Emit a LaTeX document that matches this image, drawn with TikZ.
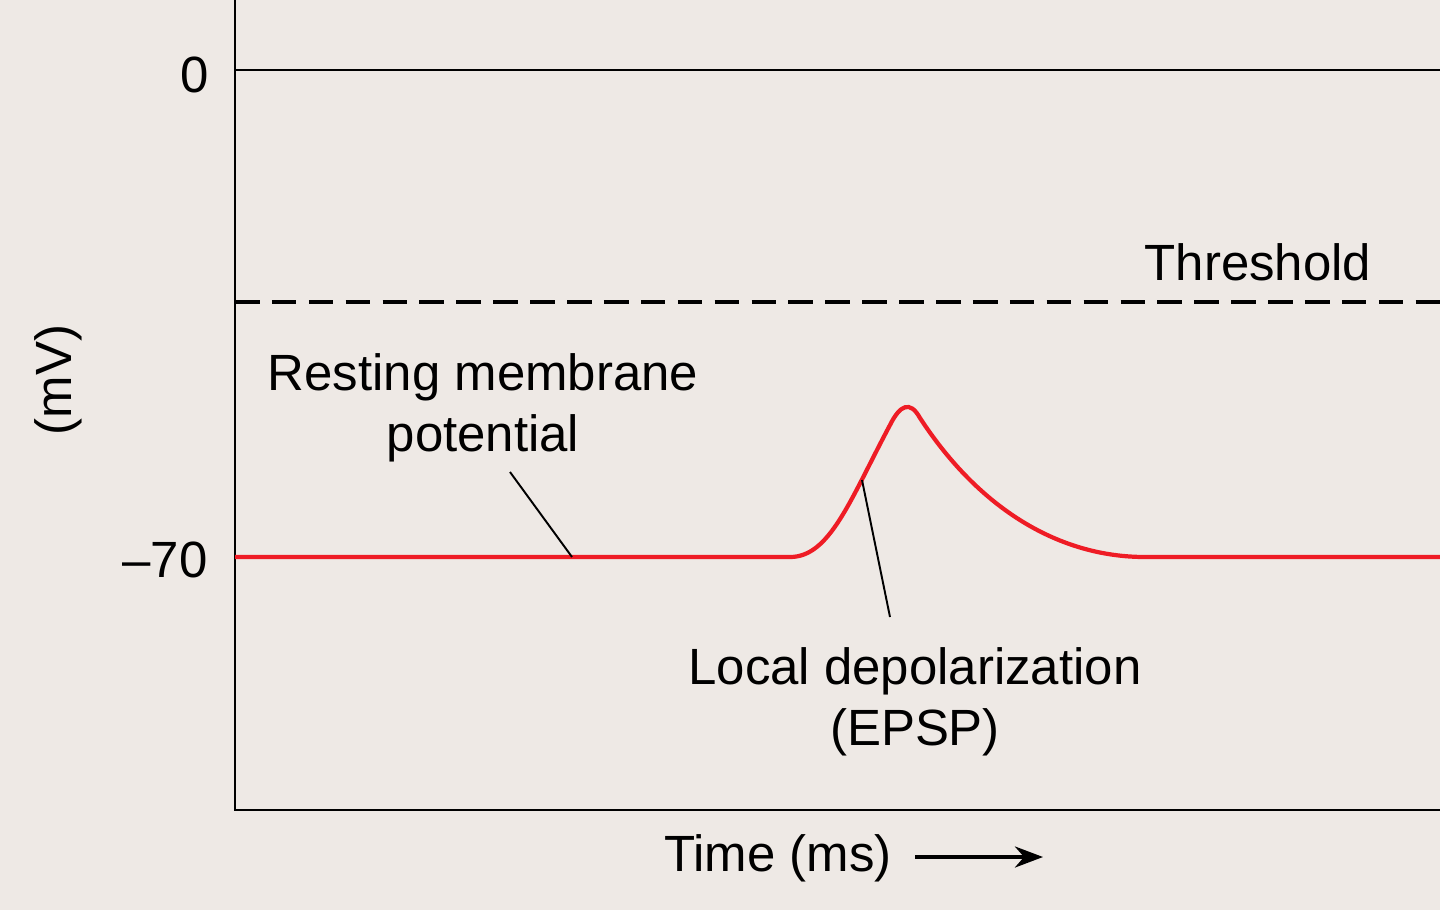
\documentclass[tikz,border=0pt]{standalone}
\usepackage{fontspec}
\setmainfont{Liberation Sans}
\usetikzlibrary{arrows.meta,positioning}
\definecolor{paper}{HTML}{EEE9E5}
\definecolor{trace}{HTML}{EE1C25}
\begin{document}
\begin{tikzpicture}[x=0.02cm,y=-0.02cm,
    lbl/.style={font=\fontsize{29}{35}\selectfont,align=center,inner sep=0pt},
    leader/.style={draw=black,line width=1.1pt}]
  \fill[paper] (0,0) rectangle (1440,910);
  \useasboundingbox (0,0) rectangle (1440,910);
  % axes
  \draw[line width=1.3pt] (235,0) -- (235,810) -- (1440,810);
  \draw[line width=1.3pt] (235,70) -- (1440,70);
  \draw[line width=2.2pt,dash pattern=on 14pt off 7pt] (235,302) -- (1440,302);
  % trace
  \draw[trace,line width=2.4pt] (235,557) -- (790,557)
    .. controls (830,557) and (850,500) .. (890,425)
    .. controls (900,405) and (910,400) .. (920,418)
    .. controls (980,510) and (1060,557) .. (1145,557) -- (1440,557);
  % labels
  \node[lbl] (zero) at (195,75) {0};
  \node[lbl] (rest) at (165,560) {–70};
  \node[lbl,rotate=90] (unit) at (58,380) {(mV)};
  \node[lbl] (thr) at (1258,262) {Threshold};
  \node[lbl] (rmp) at (483,408) {Resting membrane\\potential};
  \node[lbl] (epsp) at (915,702) {Local depolarization\\(EPSP)};
  \node[lbl] (time) at (778,858) {Time (ms)};
  \coordinate (rmpend) at (572,557);
  \coordinate (epspend) at (862,480);
  \coordinate (epspstart) at (890,617);
  \coordinate (rmpstart) at (510,472);
  \draw[leader] (rmpstart) -- (rmpend);
  \draw[leader] (epspstart) -- (epspend);
  \coordinate (arrA) at (915,857);
  \coordinate (arrB) at (1043,857);
  \draw[line width=2pt,-{Stealth[length=16pt,width=12pt]}] (arrA) -- (arrB);
\end{tikzpicture}
\end{document}
